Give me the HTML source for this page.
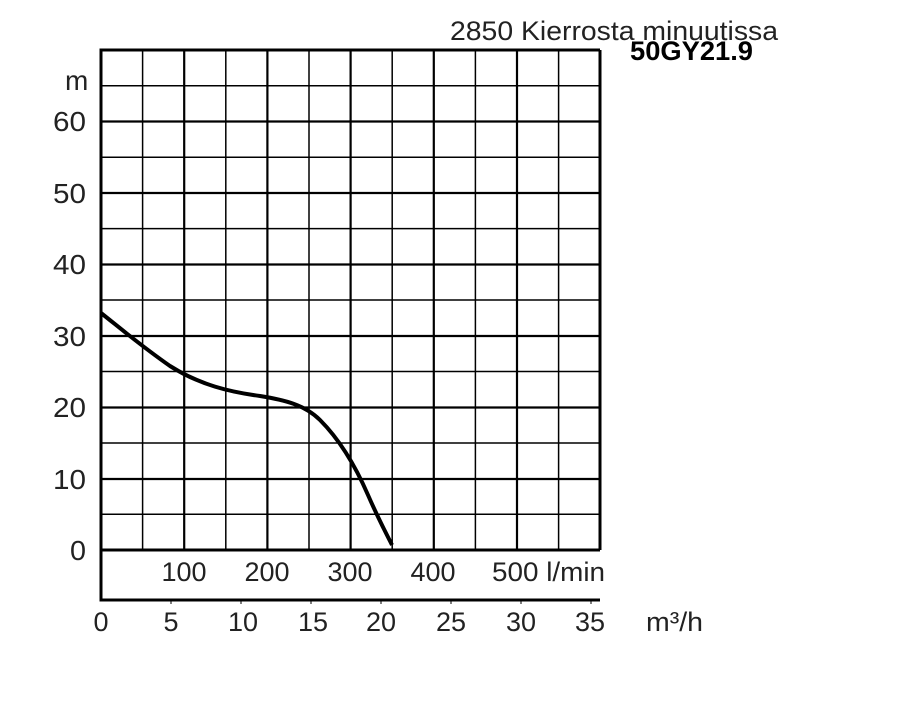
<!DOCTYPE html>
<html><head><meta charset="utf-8"><style>body{margin:0;background:#fff}</style></head><body>
<svg width="900" height="700" xmlns="http://www.w3.org/2000/svg" font-family="Liberation Sans, sans-serif">
<rect width="900" height="700" fill="#fff"/>
<g stroke="#000" fill="none">
<g stroke-width="1.5">
<line x1="142.6" y1="50" x2="142.6" y2="550"/>
<line x1="225.8" y1="50" x2="225.8" y2="550"/>
<line x1="309" y1="50" x2="309" y2="550"/>
<line x1="392.2" y1="50" x2="392.2" y2="550"/>
<line x1="475.4" y1="50" x2="475.4" y2="550"/>
<line x1="558.6" y1="50" x2="558.6" y2="550"/>
<line x1="101" y1="514.3" x2="600" y2="514.3"/>
<line x1="101" y1="443" x2="600" y2="443"/>
<line x1="101" y1="371.5" x2="600" y2="371.5"/>
<line x1="101" y1="300" x2="600" y2="300"/>
<line x1="101" y1="228.6" x2="600" y2="228.6"/>
<line x1="101" y1="157.2" x2="600" y2="157.2"/>
<line x1="101" y1="85.7" x2="600" y2="85.7"/>
</g>
<g stroke-width="2.2">
<line x1="184.2" y1="50" x2="184.2" y2="550"/>
<line x1="267.4" y1="50" x2="267.4" y2="550"/>
<line x1="350.6" y1="50" x2="350.6" y2="550"/>
<line x1="433.8" y1="50" x2="433.8" y2="550"/>
<line x1="517" y1="50" x2="517" y2="550"/>
<line x1="101" y1="479" x2="600" y2="479"/>
<line x1="101" y1="407.5" x2="600" y2="407.5"/>
<line x1="101" y1="336" x2="600" y2="336"/>
<line x1="101" y1="264.5" x2="600" y2="264.5"/>
<line x1="101" y1="193" x2="600" y2="193"/>
<line x1="101" y1="121.5" x2="600" y2="121.5"/>
</g>
<g stroke-width="3">
<line x1="101" y1="50" x2="600" y2="50"/>
<line x1="600" y1="50" x2="600" y2="550"/>
<line x1="101" y1="550" x2="600" y2="550"/>
<line x1="101" y1="48.5" x2="101" y2="601.5"/>
<line x1="101" y1="600" x2="600" y2="600"/>
</g>
<g stroke-width="1">
<line x1="171" y1="600" x2="171" y2="604"/><line x1="241" y1="600" x2="241" y2="604"/>
<line x1="311" y1="600" x2="311" y2="604"/><line x1="381" y1="600" x2="381" y2="604"/>
<line x1="451" y1="600" x2="451" y2="604"/><line x1="521" y1="600" x2="521" y2="604"/>
<line x1="591" y1="600" x2="591" y2="604"/>
</g>
<path d="M101,313 C120,328 140,345 170,366 C200,385 230,392 260,396 C285,400 305,405 320,420 C340,440 355,465 368,495 C378,518 386,533 392,545" stroke-width="4"/>
</g>
<g fill="#222" font-size="28">
<text x="65" y="90">m</text>
<text x="53" y="131" textLength="33" lengthAdjust="spacingAndGlyphs">60</text>
<text x="53" y="203" textLength="33" lengthAdjust="spacingAndGlyphs">50</text>
<text x="53" y="274" textLength="33" lengthAdjust="spacingAndGlyphs">40</text>
<text x="53" y="346" textLength="33" lengthAdjust="spacingAndGlyphs">30</text>
<text x="53" y="417" textLength="33" lengthAdjust="spacingAndGlyphs">20</text>
<text x="53" y="489" textLength="33" lengthAdjust="spacingAndGlyphs">10</text>
<text x="70" y="560" textLength="16" lengthAdjust="spacingAndGlyphs">0</text>
</g>
<g fill="#222" font-size="27" text-anchor="middle">
<text x="184" y="581">100</text><text x="267" y="581">200</text><text x="350" y="581">300</text><text x="433" y="581">400</text>
<text x="101" y="631">0</text><text x="171" y="631">5</text><text x="243" y="631">10</text><text x="313" y="631">15</text>
<text x="381" y="631">20</text><text x="451" y="631">25</text><text x="521" y="631">30</text><text x="590" y="631">35</text>
</g>
<g fill="#222" font-size="27">
<text x="492" y="581" textLength="113" lengthAdjust="spacingAndGlyphs">500 l/min</text>
<text x="646" y="631" textLength="57" lengthAdjust="spacingAndGlyphs">m³/h</text>
<text x="450" y="40" textLength="328" lengthAdjust="spacingAndGlyphs">2850 Kierrosta minuutissa</text>
<text x="630" y="60" font-weight="bold" fill="#000" textLength="123" lengthAdjust="spacingAndGlyphs">50GY21.9</text>
</g>
</svg>
</body></html>
